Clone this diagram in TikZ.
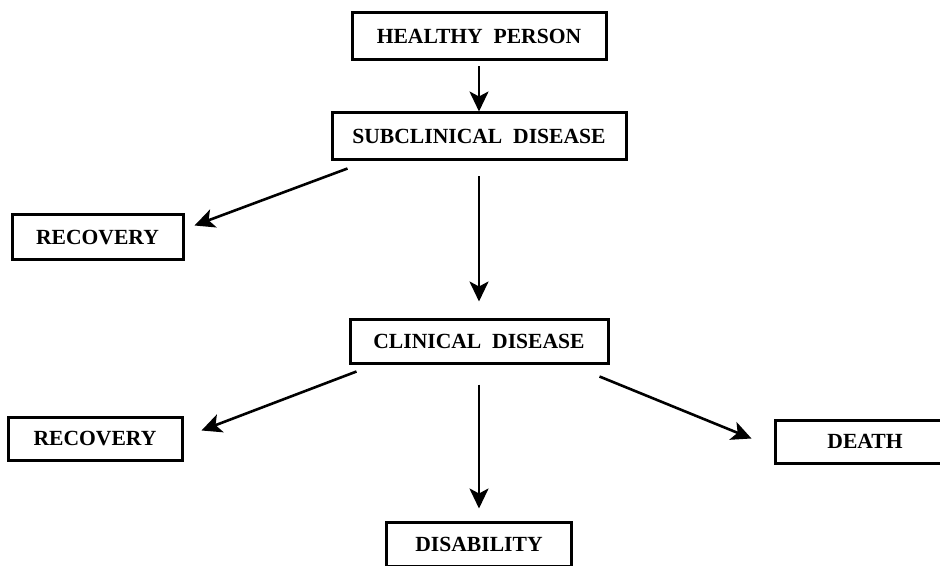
\documentclass[tikz,border=0pt]{standalone}
\usepackage{fontspec}
\setmainfont{Liberation Serif}
\usepackage{tikz}
\usetikzlibrary{calc, arrows.meta, positioning}

\tikzset{
    hop/.style={draw, line width=1.5pt, inner sep=0pt, font=\fontsize{10.8}{12}\selectfont\bfseries},
    mui/.style={->, line width=1.3pt}
}

\begin{document}
\begin{tikzpicture}[x=0.5pt, y=-0.5pt, >={Stealth[length=10pt, width=9.5pt, inset=2.5pt]}]
    % Khung của hình
    \useasboundingbox (0,0) rectangle (940,566);

    % Các hộp trạng thái
    \node[hop, minimum width=127pt, minimum height=23.5pt] (healthy) at (479,36.5) {HEALTHY\ \ PERSON};
    \node[hop, minimum width=147pt, minimum height=23.5pt] (subclin) at (479,136.5) {SUBCLINICAL\ \ DISEASE};
    \node[hop, minimum width=85.5pt, minimum height=22.5pt] (recoverA) at (97.5,237.5) {RECOVERY};
    \node[hop, minimum width=129pt, minimum height=22pt] (clinical) at (479,341) {CLINICAL\ \ DISEASE};
    \node[hop, minimum width=87pt, minimum height=21.5pt] (recoverB) at (95,438.5) {RECOVERY};
    \node[hop, minimum width=92.5pt, minimum height=22pt] (disab) at (479,544) {DISABILITY};
    \node[hop, minimum width=90pt, minimum height=21.5pt] (death) at (865,441.5) {DEATH};

    % Các mũi tên chuyển trạng thái
    \draw[mui] ([yshift=-2.5pt]healthy.south) -- (subclin.north);
    \draw[mui] ([xshift=8.5pt, yshift=-3.5pt]subclin.south west) -- ([xshift=5pt, yshift=6pt]recoverA.east);
    \draw[mui] ([yshift=-7.5pt]subclin.south) -- ([yshift=8pt]clinical.north);
    \draw[mui] ([xshift=4pt, yshift=-3.5pt]clinical.south west) -- ([xshift=9pt, yshift=4pt]recoverB.east);
    \draw[mui] ([yshift=-10pt]clinical.south) -- ([yshift=6pt]disab.north);
    \draw[mui] ([xshift=-5pt, yshift=-6pt]clinical.south east) -- ([xshift=-11pt, yshift=1.5pt]death.west);
\end{tikzpicture}
\end{document}
